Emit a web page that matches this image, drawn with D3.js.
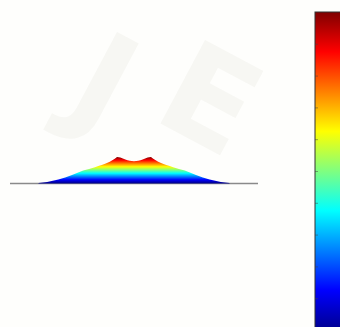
<!DOCTYPE html>
<html>
<head>
<meta charset="utf-8">
<script src="https://cdn.jsdelivr.net/npm/d3@7"></script>
<style>
  html, body { margin: 0; padding: 0; background: #fefefc; }
  svg { display: block; }
</style>
</head>
<body>
<svg id="chart" width="340" height="327"></svg>
<script>
// profile of the surface seen edge-on (x position, normalised height)
const profileX = [-7.7, -7, -6.1, -5, -4.1, -3.15, -2.6, -1.95, -1.55, -1.35, -1.1, -0.7, 0, 0.7, 1.1, 1.35, 1.55, 1.95, 2.6, 3.15, 4.1, 5, 6.1, 7, 7.7];
const profileH = [0, 0.04, 0.13, 0.31, 0.48, 0.61, 0.69, 0.82, 0.93, 1.0, 0.98, 0.9, 0.84, 0.9, 0.98, 1.0, 0.93, 0.82, 0.69, 0.61, 0.48, 0.31, 0.13, 0.04, 0];
// baseline extent and colorbar ticks
const baseX = [-10, 10];
const cbTicks = [0.1, 0.2, 0.3, 0.4, 0.5, 0.6, 0.7, 0.8, 0.9];
// MATLAB jet stops
const jetStops = [0, 0.125, 0.375, 0.625, 0.875, 1];
const jetColors = ['#00008f', '#0000ff', '#00ffff', '#ffff00', '#ff0000', '#800000'];

const svg = d3.select('#chart');
const defs = svg.append('defs');

const x = d3.scaleLinear().domain([-10, 10]).range([10, 258]);
const y = d3.scaleLinear().domain([0, 1]).range([183, 157]);
const jet = d3.scaleLinear().domain(jetStops).range(jetColors);

// faint watermark
const wm = svg.append('g').attr('fill', '#f7f7f3').attr('font-family', 'DejaVu Sans')
  .attr('font-weight', 'bold');
wm.append('text').attr('transform', 'translate(62,110) rotate(28)')
  .attr('font-size', 130).text('J');
wm.append('text').attr('transform', 'translate(150,118) rotate(28)')
  .attr('font-size', 130).text('E');

// height gradient for the surface
const grad = defs.append('linearGradient').attr('id', 'hgrad')
  .attr('gradientUnits', 'userSpaceOnUse')
  .attr('x1', 0).attr('x2', 0).attr('y1', y(0)).attr('y2', y(1));
grad.selectAll('stop').data(jetStops).join('stop')
  .attr('offset', d => d)
  .attr('stop-color', d => jet(d));

// baseline
svg.append('line')
  .attr('x1', x(baseX[0])).attr('x2', x(baseX[1]))
  .attr('y1', y(0) + 0.5).attr('y2', y(0) + 0.5)
  .attr('stroke', '#8a8a8a').attr('stroke-width', 1.6);

const pts = profileX.map((v, i) => [v, profileH[i]]);
const area = d3.area()
  .x(d => x(d[0]))
  .y0(y(0) + 0.5)
  .y1(d => y(d[1]))
  .curve(d3.curveMonotoneX);

svg.append('path')
  .datum(pts)
  .attr('d', area)
  .attr('fill', 'url(#hgrad)');

// colorbar
const cbTop = 12, cbBottom = 330, cbLeft = 315, cbRight = 345;
const cy = d3.scaleLinear().domain([0, 1]).range([cbBottom, cbTop]);
const cgrad = defs.append('linearGradient').attr('id', 'cgrad')
  .attr('gradientUnits', 'userSpaceOnUse')
  .attr('x1', 0).attr('x2', 0).attr('y1', cy(0)).attr('y2', cy(1));
cgrad.selectAll('stop').data(jetStops).join('stop')
  .attr('offset', d => d)
  .attr('stop-color', d => jet(d));

svg.append('rect')
  .attr('x', cbLeft).attr('y', cbTop)
  .attr('width', cbRight - cbLeft).attr('height', cbBottom - cbTop)
  .attr('fill', 'url(#cgrad)')
  .attr('stroke', '#333').attr('stroke-width', 1);

const cbAxis = svg.append('g')
  .attr('transform', `translate(${cbLeft},0)`)
  .call(d3.axisLeft(cy).tickValues(cbTicks).tickSize(-3).tickFormat(''));
cbAxis.select('.domain').remove();
cbAxis.selectAll('line').attr('stroke', '#444').attr('stroke-opacity', 0.5);
</script>
</body>
</html>
